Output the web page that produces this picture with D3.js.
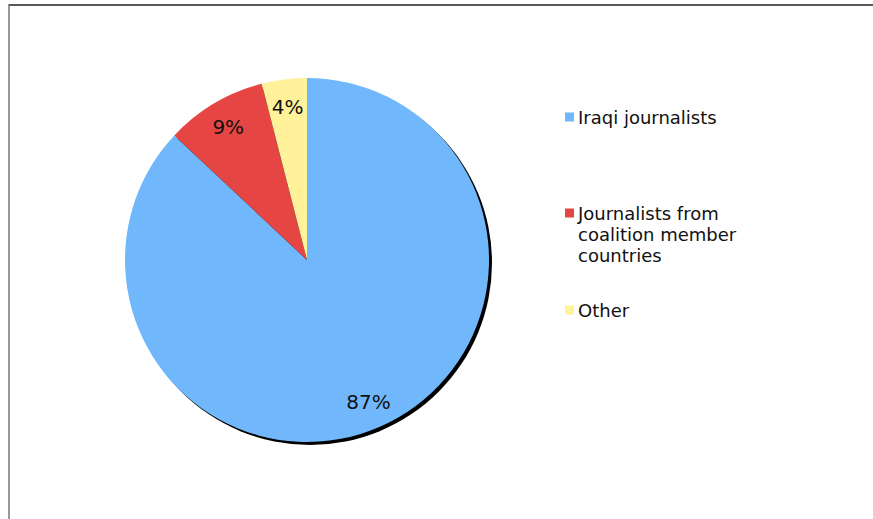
<!DOCTYPE html>
<html>
<head>
<meta charset="utf-8">
<script src="https://cdn.jsdelivr.net/npm/d3@7"></script>
<style>
  html, body { margin: 0; padding: 0; background: #fff; }
  svg { display: block; }
</style>
</head>
<body>
<svg id="chart" width="873" height="519"></svg>
<script>
// Share of journalists killed, by origin
const categories = ["Iraqi journalists", "Journalists from coalition member countries", "Other"];
const values = [87, 9, 4];
const labels = ["87%", "9%", "4%"];
const legendLines = [["Iraqi journalists"], ["Journalists from", "coalition member", "countries"], ["Other"]];
const colors = ["#70b8fb", "#e54644", "#fff29b"];

const svg = d3.select("#chart");
const W = 873, H = 519;
const font = "'DejaVu Sans', Verdana, sans-serif";

// frame
svg.append("line").attr("x1", 8.5).attr("x2", W).attr("y1", 5).attr("y2", 5)
  .attr("stroke", "#222").attr("stroke-width", 1.5);
svg.append("line").attr("x1", 9).attr("x2", 9).attr("y1", 5).attr("y2", H)
  .attr("stroke", "#777").attr("stroke-width", 1.5);

const cx = 307, cy = 260, R = 182;
const pie = d3.pie().sort(null).value(d => d)(values);
const arc = d3.arc().innerRadius(0).outerRadius(R);
const labelArc = d3.arc().innerRadius(R * 0.85).outerRadius(R * 0.85);

const g = svg.append("g").attr("transform", `translate(${cx},${cy})`);

// drop shadow
g.append("circle").attr("cx", 3).attr("cy", 3).attr("r", R).attr("fill", "#000");

g.selectAll("path.slice").data(pie).join("path")
  .attr("class", "slice")
  .attr("d", arc)
  .attr("fill", (d, i) => colors[i]);

g.selectAll("text.lbl").data(pie).join("text")
  .attr("class", "lbl")
  .attr("transform", d => `translate(${labelArc.centroid(d)})`)
  .attr("text-anchor", "middle")
  .attr("dominant-baseline", "central")
  .attr("font-family", font)
  .attr("font-size", 20)
  .attr("fill", "#111")
  .text((d, i) => labels[i]);

// legend
const legendY = [117, 213, 310];
const lg = svg.append("g");
categories.forEach((c, i) => {
  const y = legendY[i];
  lg.append("rect").attr("x", 565).attr("y", y - 4.5).attr("width", 9).attr("height", 9)
    .attr("fill", colors[i]);
  legendLines[i].forEach((t, j) => {
    lg.append("text").attr("x", 578).attr("y", y + j * 21)
      .attr("dominant-baseline", "central")
      .attr("font-family", font).attr("font-size", 18)
      .attr("fill", "#111").text(t);
  });
});
</script>
</body>
</html>
